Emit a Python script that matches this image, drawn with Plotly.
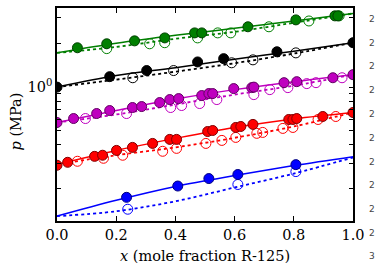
import plotly.graph_objects as go

# ---- data ----
line_x = [0.0, 0.2, 0.4, 0.6, 0.8, 1.0]

green_bub_line = [1.72, 2.00, 2.27, 2.54, 2.85, 3.21]
green_dew_line = [1.72, 1.89, 2.15, 2.40, 2.77, 3.21]
green_bub_x = [0.069, 0.168, 0.262, 0.364, 0.465, 0.489, 0.645, 0.807, 0.939, 0.949]
green_bub_p = [1.865, 1.986, 2.08, 2.18, 2.36, 2.36, 2.60, 2.90, 3.09, 3.09]
green_dew_x = [0.168, 0.313, 0.364, 0.475, 0.543, 0.587, 0.716, 0.851, 0.953]
green_dew_p = [1.84, 1.986, 2.02, 2.18, 2.36, 2.36, 2.60, 2.85, 3.09]

black_bub_line = [1.0, 1.20, 1.36, 1.555, 1.765, 2.02]
black_dew_line = [1.0, 1.126, 1.277, 1.46, 1.70, 2.02]
black_bub_x = [0.0, 0.178, 0.303, 0.475, 0.563, 0.743, 1.0]
black_bub_p = [1.0, 1.18, 1.30, 1.49, 1.57, 1.75, 2.02]
black_dew_x = [0.256, 0.394, 0.590, 0.662, 0.807]
black_dew_p = [1.16, 1.30, 1.47, 1.54, 1.72]

mag_bub_line = [0.571, 0.690, 0.828, 0.961, 1.09, 1.218]
mag_dew_line = [0.571, 0.648, 0.759, 0.888, 1.024, 1.218]
mag_bub_x = [0.0, 0.056, 0.134, 0.178, 0.255, 0.286, 0.347, 0.381, 0.411, 0.489,
             0.513, 0.526, 0.597, 0.658, 0.665, 0.767, 0.810, 0.932, 1.0]
mag_bub_p = [0.571, 0.608, 0.658, 0.690, 0.724, 0.735, 0.783, 0.821, 0.834, 0.875,
             0.903, 0.903, 0.977, 0.992, 1.0, 1.073, 1.09, 1.16, 1.218]
mag_dew_x = [0.096, 0.235, 0.384, 0.421, 0.482, 0.540, 0.665, 0.719, 0.780, 0.844, 0.875, 0.963]
mag_dew_p = [0.608, 0.658, 0.724, 0.747, 0.771, 0.821, 0.888, 0.961, 0.992, 1.057, 1.073, 1.16]

red_bub_line = [0.294, 0.367, 0.444, 0.528, 0.604, 0.669]
red_dew_line = [0.294, 0.340, 0.385, 0.448, 0.536, 0.669]
red_bub_x = [0.0, 0.036, 0.127, 0.154, 0.201, 0.255, 0.323, 0.381, 0.404, 0.509,
             0.526, 0.604, 0.621, 0.662, 0.783, 0.797, 0.810, 0.898, 1.0]
red_bub_p = [0.290, 0.304, 0.334, 0.340, 0.367, 0.385, 0.410, 0.437, 0.437, 0.495,
             0.503, 0.528, 0.536, 0.554, 0.599, 0.599, 0.608, 0.628, 0.669]
red_dew_x = [0.069, 0.157, 0.222, 0.357, 0.404, 0.503, 0.557, 0.604, 0.675, 0.695,
             0.763, 0.797, 0.882, 0.942]
red_dew_p = [0.309, 0.324, 0.340, 0.362, 0.379, 0.410, 0.430, 0.451, 0.481, 0.488,
             0.520, 0.528, 0.599, 0.628]

blue_bub_line = [0.1296, 0.1666, 0.2075, 0.2466, 0.2885, 0.332]
blue_dew_line = [0.1296, 0.140, 0.164, 0.204, 0.2544, 0.328]
blue_bub_x = [0.235, 0.408, 0.513, 0.611, 0.807]
blue_bub_p = [0.1746, 0.2088, 0.235, 0.2506, 0.293]
blue_dew_x = [0.239, 0.611, 0.807]
blue_dew_p = [0.1446, 0.214, 0.2625]

x_ticks = [0.0, 0.2, 0.4, 0.6, 0.8, 1.0]
x_tick_labels = ["0.0", "0.2", "0.4", "0.6", "0.8", "1.0"]
y_ticks = [0.2, 0.3, 0.4, 0.5, 0.6, 0.7, 0.8, 0.9, 1.0, 2.0, 3.0]
y_tick_labels = [" ", " ", " ", " ", " ", " ", " ", " ", "10<sup>0</sup>", " ", " "]
side_labels = ["2", "2", "2", "2", "2", "2", "2", "2", "2", "2", "3"]

series = [
    ("#007f00", "#004000", green_bub_line, green_dew_line, green_bub_x, green_bub_p, green_dew_x, green_dew_p),
    ("#000000", "#000000", black_bub_line, black_dew_line, black_bub_x, black_bub_p, black_dew_x, black_dew_p),
    ("#bf00bf", "#600060", mag_bub_line, mag_dew_line, mag_bub_x, mag_bub_p, mag_dew_x, mag_dew_p),
    ("#ff0000", "#800000", red_bub_line, red_dew_line, red_bub_x, red_bub_p, red_dew_x, red_dew_p),
    ("#0000ff", "#000080", blue_bub_line, blue_dew_line, blue_bub_x, blue_bub_p, blue_dew_x, blue_dew_p),
]

fig = go.Figure()
for col, edge, bl, dl, bx, bp, dx, dp in series:
    fig.add_trace(go.Scatter(x=line_x, y=bl, mode="lines",
                             line=dict(color=col, width=1.5, shape="spline"), hoverinfo="skip"))
    fig.add_trace(go.Scatter(x=line_x, y=dl, mode="lines",
                             line=dict(color=col, width=1.8, shape="spline", dash="3px,3px"), hoverinfo="skip"))
    fig.add_trace(go.Scatter(x=dx, y=dp, mode="markers",
                             marker=dict(symbol="circle-open", size=10, color=col, line=dict(width=1, color=col))))
    fig.add_trace(go.Scatter(x=bx, y=bp, mode="markers",
                             marker=dict(symbol="circle", size=10, color=col, line=dict(width=1, color=edge))))

fnt = dict(family="DejaVu Serif", size=14.5, color="#000000")
fig.update_layout(
    width=376, height=263,
    margin=dict(l=57, r=23, t=6, b=42),
    paper_bgcolor="white", plot_bgcolor="white",
    showlegend=False,
    font=fnt,
)
fig.update_xaxes(range=[0, 1], tickvals=x_ticks, ticktext=x_tick_labels,
                 ticks="inside", ticklen=5, tickwidth=1, tickcolor="#000",
                 showline=True, linecolor="#000", linewidth=1.5, mirror="ticks",
                 showgrid=False, zeroline=False, tickfont=fnt)
fig.update_yaxes(type="log", range=[-0.9208, 0.5441], tickvals=y_ticks, ticktext=y_tick_labels,
                 ticks="inside", ticklen=4, tickwidth=1, tickcolor="#000",
                 showline=True, linecolor="#000", linewidth=1.5, mirror="ticks",
                 showgrid=False, zeroline=False, tickfont=fnt)

fig.add_annotation(text="<i>x</i> (mole fraction R-125)", xref="paper", yref="paper",
                   x=0.5, y=-0.165, xanchor="center", yanchor="middle", showarrow=False,
                   font=dict(family="DejaVu Serif", size=14.5, color="#000"))
fig.add_annotation(text="<i>p</i> (MPa)", xref="paper", yref="paper", textangle=-90,
                   x=-0.14, y=0.465, xanchor="center", yanchor="middle", showarrow=False,
                   font=dict(family="DejaVu Serif", size=14.5, color="#000"))

side_y = [17, 41, 65, 89, 113, 137, 161, 185, 209, 233, 256]
for lab, yy in zip(side_labels, side_y):
    fig.add_annotation(text=lab, xref="paper", yref="paper",
                       x=(372 - 57) / 296, y=(221 - yy) / 215, xanchor="center", yanchor="middle",
                       showarrow=False, font=dict(family="DejaVu Sans", size=9, color="#444"))

fig.write_html("out.html")
